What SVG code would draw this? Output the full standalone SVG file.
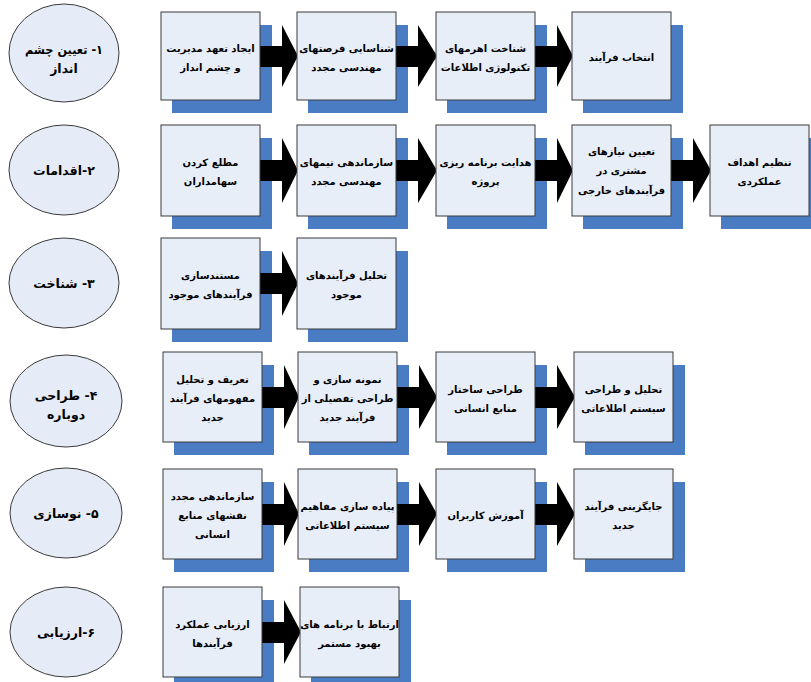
<svg xmlns="http://www.w3.org/2000/svg" width="811" height="682" viewBox="0 0 811 682">
<defs>
<style>
.bg{fill:#ffffff}
.sh{fill:#4a7cc4}
.bx{fill:#e8eef8;stroke:#3a3a3a;stroke-width:1}
.el{fill:#e6ecf7;stroke:#3a3a3a;stroke-width:1}
.ar{fill:#000000}
.t{font-family:"DejaVu Sans","Noto Sans",sans-serif;font-weight:bold;font-size:10px;fill:#000;text-anchor:middle}
.te{font-family:"DejaVu Sans","Noto Sans",sans-serif;font-weight:bold;font-size:12.5px;fill:#000;text-anchor:middle;direction:rtl}
</style>
</defs>
<rect class="bg" x="0" y="0" width="811" height="682"/>

<!-- shadows -->
<g id="shadows">
<rect class="sh" x="172" y="25" width="100" height="88"/>
<rect class="sh" x="308" y="25" width="100" height="88"/>
<rect class="sh" x="447" y="25" width="100" height="88"/>
<rect class="sh" x="583" y="25" width="100" height="88"/>

<rect class="sh" x="172" y="138" width="100" height="91"/>
<rect class="sh" x="308" y="138" width="100" height="91"/>
<rect class="sh" x="447" y="138" width="100" height="91"/>
<rect class="sh" x="583" y="138" width="100" height="91"/>
<rect class="sh" x="721" y="138" width="90" height="91"/>

<rect class="sh" x="172" y="251" width="100" height="91"/>
<rect class="sh" x="308" y="251" width="100" height="91"/>

<rect class="sh" x="174" y="365" width="100" height="90"/>
<rect class="sh" x="309" y="365" width="100" height="90"/>
<rect class="sh" x="447" y="365" width="100" height="90"/>
<rect class="sh" x="585" y="365" width="100" height="90"/>

<rect class="sh" x="174" y="482" width="100" height="90"/>
<rect class="sh" x="309" y="482" width="100" height="90"/>
<rect class="sh" x="447" y="482" width="100" height="90"/>
<rect class="sh" x="585" y="482" width="100" height="90"/>

<rect class="sh" x="174" y="600" width="100" height="90"/>
<rect class="sh" x="311" y="600" width="100" height="90"/>
</g>

<!-- connectors -->
<g id="connectors">
<polygon class="ar" points="260,46 282,46 282,25 298,56 282,87 282,67 260,67"/>
<polygon class="ar" points="396,46 418,46 418,25 437,56 418,87 418,67 396,67"/>
<polygon class="ar" points="535,46 557,46 557,25 573,56 557,87 557,67 535,67"/>

<polygon class="ar" points="260,160 282,160 282,138 298,170.5 282,203 282,181 260,181"/>
<polygon class="ar" points="396,160 418,160 418,138 437,170.5 418,203 418,181 396,181"/>
<polygon class="ar" points="535,160 557,160 557,138 573,170.5 557,203 557,181 535,181"/>
<polygon class="ar" points="671,160 693,160 693,138 711,170.5 693,203 693,181 671,181"/>

<polygon class="ar" points="260,273 282,273 282,251 298,283.5 282,316 282,294 260,294"/>

<polygon class="ar" points="262,387 284,387 284,365 299,397 284,429 284,408 262,408"/>
<polygon class="ar" points="397,387 419,387 419,365 437,397 419,429 419,408 397,408"/>
<polygon class="ar" points="535,387 557,387 557,365 575,397 557,429 557,408 535,408"/>

<polygon class="ar" points="262,504 284,504 284,482 299,514 284,546 284,525 262,525"/>
<polygon class="ar" points="397,504 419,504 419,482 437,514 419,546 419,525 397,525"/>
<polygon class="ar" points="535,504 557,504 557,482 575,514 557,546 557,525 535,525"/>

<polygon class="ar" points="262,622 284,622 284,600 301,632 284,664 284,643 262,643"/>
</g>

<!-- row 1 -->
<g id="phase1"><ellipse class="el" cx="64" cy="53" rx="55" ry="49"/>
<text class="te" x="64" y="54" textLength="78" lengthAdjust="spacingAndGlyphs">۱- تعیین چشم</text><text class="te" x="64" y="73">انداز</text></g>
<g id="n1a"><rect class="bx" x="161" y="12" width="99" height="88"/>
<text class="t" x="210.5" y="52">ایجاد تعهد مدیریت</text><text class="t" x="210.5" y="71">و چشم انداز</text></g>
<g id="n1b"><rect class="bx" x="297" y="12" width="99" height="88"/>
<text class="t" x="346.5" y="52">شناسایی فرصتهای</text><text class="t" x="346.5" y="71">مهندسی مجدد</text></g>
<g id="n1c"><rect class="bx" x="436" y="12" width="99" height="88"/>
<text class="t" x="485.5" y="52">شناخت  اهرمهای</text><text class="t" x="485.5" y="71">تکنولوژی اطلاعات</text></g>
<g id="n1d"><rect class="bx" x="572" y="12" width="99" height="88"/>
<text class="t" x="621.5" y="61">انتخاب فرآیند</text></g>

<!-- row 2 -->
<g id="phase2"><ellipse class="el" cx="64" cy="170" rx="55" ry="45"/>
<text class="te" x="64" y="175">۲-اقدامات</text></g>
<g id="n2a"><rect class="bx" x="161" y="125" width="99" height="91"/>
<text class="t" x="210.5" y="166">مطلع کردن</text><text class="t" x="210.5" y="185">سهامداران</text></g>
<g id="n2b"><rect class="bx" x="297" y="125" width="99" height="91"/>
<text class="t" x="346.5" y="166">سازماندهی تیمهای</text><text class="t" x="346.5" y="185">مهندسی مجدد</text></g>
<g id="n2c"><rect class="bx" x="436" y="125" width="99" height="91"/>
<text class="t" x="485.5" y="166">هدایت برنامه ریزی</text><text class="t" x="485.5" y="185">پروژه</text></g>
<g id="n2d"><rect class="bx" x="572" y="125" width="99" height="91"/>
<text class="t" x="621.5" y="155">تعیین نیازهای</text><text class="t" x="621.5" y="174">مشتری در</text><text class="t" x="621.5" y="194">فرآیندهای خارجی</text></g>
<g id="n2e"><rect class="bx" x="710" y="125" width="99" height="91"/>
<text class="t" x="759.5" y="166">تنظیم اهداف</text><text class="t" x="759.5" y="185">عملکردی</text></g>

<!-- row 3 -->
<g id="phase3"><ellipse class="el" cx="64" cy="283" rx="55" ry="45"/>
<text class="te" x="64" y="288">۳- شناخت</text></g>
<g id="n3a"><rect class="bx" x="161" y="238" width="99" height="91"/>
<text class="t" x="210.5" y="279">مستندسازی</text><text class="t" x="210.5" y="298">فرآیندهای موجود</text></g>
<g id="n3b"><rect class="bx" x="297" y="238" width="99" height="91"/>
<text class="t" x="346.5" y="279">تحلیل فرآیندهای</text><text class="t" x="346.5" y="298">موجود</text></g>

<!-- row 4 -->
<g id="phase4"><ellipse class="el" cx="66" cy="401" rx="56" ry="46"/>
<text class="te" x="66" y="400">۴- طراحی</text><text class="te" x="66" y="419">دوباره</text></g>
<g id="n4a"><rect class="bx" x="163" y="352" width="99" height="90"/>
<text class="t" x="212.5" y="383">تعریف و تحلیل</text><text class="t" x="212.5" y="402">مفهومهای فرآیند</text><text class="t" x="212.5" y="421">جدید</text></g>
<g id="n4b"><rect class="bx" x="298" y="352" width="99" height="90"/>
<text class="t" x="347.5" y="383">نمونه سازی و</text><text class="t" x="347.5" y="402">طراحی تفصیلی از</text><text class="t" x="347.5" y="421">فرآیند جدید</text></g>
<g id="n4c"><rect class="bx" x="436" y="352" width="99" height="90"/>
<text class="t" x="485.5" y="393">طراحی ساختار</text><text class="t" x="485.5" y="412">منابع انسانی</text></g>
<g id="n4d"><rect class="bx" x="574" y="352" width="99" height="90"/>
<text class="t" x="623.5" y="393">تحلیل و طراحی</text><text class="t" x="623.5" y="412">سیستم اطلاعاتی</text></g>

<!-- row 5 -->
<g id="phase5"><ellipse class="el" cx="66" cy="513" rx="56" ry="45"/>
<text class="te" x="66" y="518">۵- نوسازی</text></g>
<g id="n5a"><rect class="bx" x="163" y="469" width="99" height="90"/>
<text class="t" x="212.5" y="500">سازماندهی مجدد</text><text class="t" x="212.5" y="519">نقشهای منابع</text><text class="t" x="212.5" y="538">انسانی</text></g>
<g id="n5b"><rect class="bx" x="298" y="469" width="99" height="90"/>
<text class="t" x="347.5" y="510">پیاده سازی مفاهیم</text><text class="t" x="347.5" y="529">سیستم اطلاعاتی</text></g>
<g id="n5c"><rect class="bx" x="436" y="469" width="99" height="90"/>
<text class="t" x="485.5" y="519">آموزش کاربران</text></g>
<g id="n5d"><rect class="bx" x="574" y="469" width="99" height="90"/>
<text class="t" x="623.5" y="510">جایگزینی فرآیند</text><text class="t" x="623.5" y="529">جدید</text></g>

<!-- row 6 -->
<g id="phase6"><ellipse class="el" cx="66" cy="632" rx="56" ry="45"/>
<text class="te" x="66" y="637">۶-ارزیابی</text></g>
<g id="n6a"><rect class="bx" x="163" y="587" width="99" height="90"/>
<text class="t" x="212.5" y="628">ارزیابی عملکرد</text><text class="t" x="212.5" y="647">فرآیندها</text></g>
<g id="n6b"><rect class="bx" x="300" y="587" width="99" height="90"/>
<text class="t" x="349.5" y="628">ارتباط با برنامه های</text><text class="t" x="349.5" y="647">بهبود مستمر</text></g>
</svg>
